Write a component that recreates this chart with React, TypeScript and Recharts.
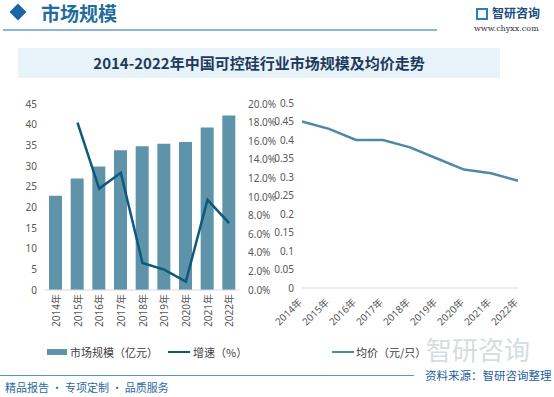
import React from "react";
import {
  ComposedChart,
  LineChart,
  Bar,
  Line,
  XAxis,
  YAxis,
} from "recharts";

const years = ["2014年", "2015年", "2016年", "2017年", "2018年", "2019年", "2020年", "2021年", "2022年"];
const marketSize = [22.8, 27.0, 29.9, 33.8, 34.8, 35.4, 35.8, 39.3, 42.2];
const growth = [null, 18.0, 10.9, 12.6, 2.9, 2.2, 0.9, 9.7, 7.2];
const avgPrice = [0.45, 0.43, 0.4, 0.4, 0.38, 0.35, 0.32, 0.31, 0.29];

const leftTicks = [0, 5, 10, 15, 20, 25, 30, 35, 40, 45];
const rightTicks = [0, 2, 4, 6, 8, 10, 12, 14, 16, 18, 20];
const priceTicks = [0, 0.05, 0.1, 0.15, 0.2, 0.25, 0.3, 0.35, 0.4, 0.45, 0.5];

const sizeData = years.map((y, i) => ({ year: y, size: marketSize[i], growth: growth[i] }));
const priceData = years.map((y, i) => ({ year: y, price: avgPrice[i] }));

const FONT = '"Noto Sans", "Noto Sans CJK SC", sans-serif';
const CJK = '"Noto Sans CJK SC", sans-serif';
const tickStyle = { fontSize: 10, fill: "#595959", fontFamily: FONT };

const BAR = "#5e93a9";
const GROWTH = "#0d5a7c";
const PRICE = "#4d8aa8";

function VerticalTick(props: any) {
  const { x, y, payload } = props;
  const ty = y - 4;
  return (
    <text
      x={x}
      y={ty}
      transform={`rotate(-90, ${x}, ${ty})`}
      textAnchor="end"
      dominantBaseline="central"
      {...tickStyle}
    >
      {payload.value}
    </text>
  );
}

function SlantTick(props: any) {
  const { x, y, payload } = props;
  const tx = x - 2;
  const ty = y + 4;
  return (
    <text
      x={tx}
      y={ty}
      transform={`rotate(-45, ${tx}, ${ty})`}
      textAnchor="end"
      dominantBaseline="central"
      {...tickStyle}
    >
      {payload.value}
    </text>
  );
}

export default function App() {
  return (
    <div
      style={{
        position: "absolute",
        left: 0,
        top: 0,
        width: 554,
        height: 397,
        background: "#ffffff",
        overflow: "hidden",
        fontFamily: CJK,
      }}
    >
      {/* header */}
      <div
        style={{
          position: "absolute",
          left: 12,
          top: 6,
          width: 12,
          height: 12,
          background: "#1b67a3",
          transform: "rotate(45deg)",
        }}
      />
      <div style={{ position: "absolute", left: 41, top: 2, fontSize: 19, lineHeight: "22px", color: "#1f6d9c", fontWeight: 700 }}>
        市场规模
      </div>
      <div style={{ position: "absolute", left: 3, top: 29, width: 434, height: 2, background: "#8ab6d2" }} />
      <div style={{ position: "absolute", left: 476, top: 8, width: 12, height: 12, border: "2px solid #2a7fc0", boxSizing: "border-box" }} />
      <div style={{ position: "absolute", left: 492, top: 5, fontSize: 12, lineHeight: "16px", color: "#1b4c7e", fontWeight: 700 }}>
        智研咨询
      </div>
      <div style={{ position: "absolute", left: 474, top: 24, fontSize: 8, lineHeight: "10px", color: "#333", fontFamily: '"DejaVu Serif", serif' }}>
        www.chyxx.com
      </div>

      {/* title */}
      <div
        style={{
          position: "absolute",
          left: 18,
          top: 48,
          width: 482,
          height: 30,
          background: "#e8f2f9",
          color: "#1d3b5c",
          fontSize: 15,
          fontWeight: 700,
          lineHeight: "30px",
          textAlign: "center",
        }}
      >
        2014-2022年中国可控硅行业市场规模及均价走势
      </div>

      {/* watermark */}
      <div style={{ position: "absolute", left: 426, top: 335, fontSize: 26, lineHeight: "28px", color: "#c5ced6", opacity: 0.7 }}>
        智研咨询
      </div>

      {/* left chart */}
      <div style={{ position: "absolute", left: 0, top: 90 }}>
        <ComposedChart width={300} height={250} data={sizeData} margin={{ top: 14, right: 0, left: 0, bottom: 0 }}>
          <XAxis
            dataKey="year"
            height={50}
            interval={0}
            tickLine={false}
            axisLine={{ stroke: "#d9d9d9" }}
            tick={<VerticalTick />}
          />
          <YAxis
            yAxisId="l"
            width={45}
            domain={[0, 45]}
            ticks={leftTicks}
            axisLine={false}
            tickLine={false}
            tick={tickStyle}
          />
          <YAxis
            yAxisId="r"
            orientation="right"
            width={60}
            domain={[0, 20]}
            ticks={rightTicks}
            axisLine={false}
            tickLine={false}
            tick={{ ...tickStyle, textAnchor: "start" }}
            tickFormatter={(v: number) => v.toFixed(1) + "%"}
          />
          <Bar yAxisId="l" dataKey="size" fill={BAR} barSize={13} isAnimationActive={false} />
          <Line
            yAxisId="r"
            dataKey="growth"
            stroke={GROWTH}
            strokeWidth={2.5}
            dot={false}
            connectNulls={false}
            isAnimationActive={false}
          />
        </ComposedChart>
      </div>

      {/* right chart */}
      <div style={{ position: "absolute", left: 250, top: 90 }}>
        <LineChart width={280} height={248} data={priceData} margin={{ top: 13, right: 12, left: 0, bottom: 0 }}>
          <XAxis
            dataKey="year"
            height={50}
            interval={0}
            tickLine={false}
            axisLine={{ stroke: "#d9d9d9" }}
            tick={<SlantTick />}
          />
          <YAxis
            width={52}
            domain={[0, 0.5]}
            ticks={priceTicks}
            axisLine={false}
            tickLine={false}
            tick={tickStyle}
            tickFormatter={(v: number) => String(parseFloat(v.toFixed(2)))}
          />
          <Line dataKey="price" stroke={PRICE} strokeWidth={2.5} dot={false} isAnimationActive={false} />
        </LineChart>
      </div>

      {/* legends */}
      <div style={{ position: "absolute", left: 47, top: 349, width: 20, height: 6, background: BAR }} />
      <div style={{ position: "absolute", left: 70, top: 344, fontSize: 11, lineHeight: "16px", color: "#404040" }}>
        市场规模（亿元）
      </div>
      <div style={{ position: "absolute", left: 168, top: 351, width: 22, height: 2, background: GROWTH }} />
      <div style={{ position: "absolute", left: 193, top: 344, fontSize: 11, lineHeight: "16px", color: "#404040" }}>
        增速（%）
      </div>
      <div style={{ position: "absolute", left: 332, top: 351, width: 22, height: 2, background: PRICE }} />
      <div style={{ position: "absolute", left: 356, top: 344, fontSize: 11, lineHeight: "16px", color: "#404040" }}>
        均价（元/只）
      </div>

      {/* footer */}
      <div style={{ position: "absolute", left: 0, top: 375, width: 414, height: 1, background: "#5b96c8" }} />
      <div style={{ position: "absolute", left: 425, top: 368, fontSize: 11.5, lineHeight: "15px", color: "#1f5f9f" }}>
        资料来源：智研咨询整理
      </div>
      <div style={{ position: "absolute", left: 5, top: 380, fontSize: 11, lineHeight: "14px", color: "#2a6aa0" }}>
        精品报告 · 专项定制 · 品质服务
      </div>
    </div>
  );
}
